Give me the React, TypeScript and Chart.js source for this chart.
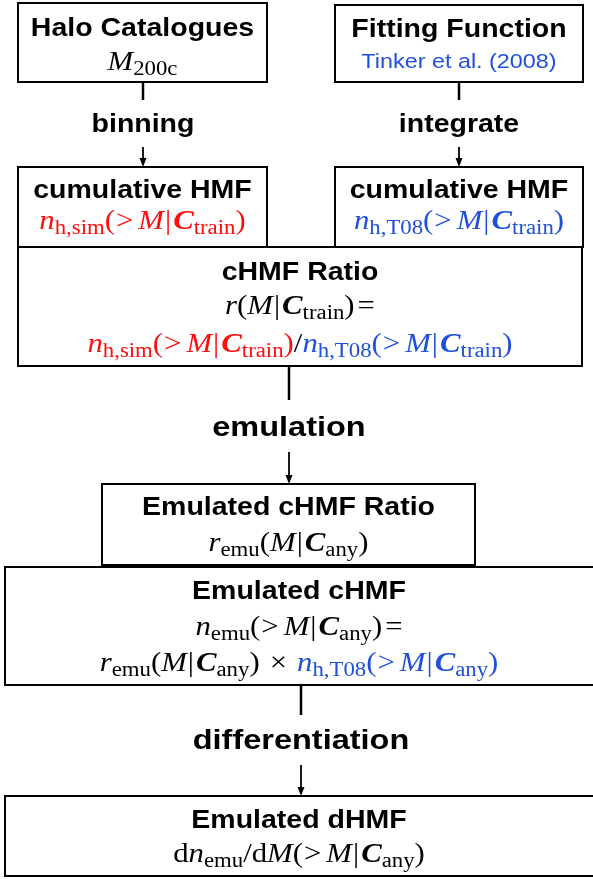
import { useEffect, useRef } from 'react';
import { Chart, registerables } from 'chart.js';
Chart.register(...registerables);

const W = 593;
const H = 879;
const RED = '#ff0d0d';
const BLUE = '#1f50d8';

type Seg = [string, string, string?];

// Boxes
const boxTitles = ['Halo Catalogues', 'Fitting Function', 'cumulative HMF', 'cumulative HMF', 'cHMF Ratio', 'Emulated cHMF Ratio', 'Emulated cHMF', 'Emulated dHMF'];
const boxLeft = [18, 335, 18, 335, 18, 102, 5, 5];
const boxTop = [3, 5, 167, 167, 247, 484, 567, 796];
const boxRight = [267, 583, 267, 583, 582, 475, 600, 600];
const boxBottom = [82, 82, 247, 247, 366, 565, 685, 876];
const titleY = [29, 30, 191, 191, 273, 508, 592, 821];
const lineY: number[][] = [[70], [67], [229], [229], [314, 352], [551], [635, 671], [862]];

const nh = (sub: string, c: string, cond: string, gt = true): Seg[] => [
  ['n', 'i', c], [sub, 's', c], ['(', 'r', c], ...(gt ? [['>', 'gt', c] as Seg] : []), ['M', 'i', c], ['|', 'bar', c], ['C', 'b', c], [cond, 's', c], [')', 'r', c],
];
const rM = (sub: string, cond: string): Seg[] => [
  ['r', 'i'], ...(sub ? [[sub, 's'] as Seg] : []), ['(', 'r'], ['M', 'i'], ['|', 'bar'], ['C', 'b'], [cond, 's'], [')', 'r'],
];

const boxLines: Seg[][][] = [
  [[['M', 'i'], ['200c', 's']]],
  [[['Tinker et al. (2008)', 'sans', BLUE]]],
  [nh('h,sim', RED, 'train')],
  [nh('h,T08', BLUE, 'train')],
  [[...rM('', 'train'), ['=', 'eq']], [...nh('h,sim', RED, 'train'), ['/', 'r'], ...nh('h,T08', BLUE, 'train')]],
  [rM('emu', 'any')],
  [[...nh('emu', '#000', 'any'), ['=', 'eq']], [...rM('emu', 'any'), ['×', 'times'], ...nh('h,T08', BLUE, 'any')]],
  [[['d', 'r'], ['n', 'i'], ['emu', 's'], ['/', 'r'], ['d', 'r'], ['M', 'i'], ['(', 'r'], ['>', 'gt'], ['M', 'i'], ['|', 'bar'], ['C', 'b'], ['any', 's'], [')', 'r']]],
];

// Connectors
const edgeLabels = ['binning', 'integrate', 'emulation', 'differentiation'];
const edgeX = [143, 459, 289, 301];
const edgeStart = [82, 82, 366, 685];
const edgeStop = [100, 100, 400, 715];
const edgeLabelY = [125, 125, 428, 741];
const arrowStart = [147, 147, 452, 765];
const arrowEnd = [167, 167, 484, 796];
const edgeLabelSize = [25, 25, 28.5, 28.5];

const SX = 1.14; // horizontal stretch of the figure's lettering
const MS = 27; // math size
const SS = 20; // subscript size

function segFont(kind: string): string {
  switch (kind) {
    case 'i': return `italic ${MS}px "Liberation Serif"`;
    case 'b': return `bold italic ${MS}px "Liberation Serif"`;
    case 's': return `${SS}px "Liberation Serif"`;
    case 'sans': return `20.5px "Liberation Sans"`;
    default: return `${MS}px "Liberation Serif"`;
  }
}
function segPad(kind: string): [number, number] {
  if (kind === 'gt') return [1, 5];
  if (kind === 'eq') return [3, 0];
  if (kind === 'times') return [10, 10];
  if (kind === 'b') return [1, 0];
  if (kind === 'bar') return [1, 1];
  return [0, 0];
}

function stretchText(ctx: CanvasRenderingContext2D, t: string, x: number, y: number) {
  ctx.save();
  ctx.translate(x, y);
  ctx.scale(SX, 1);
  ctx.fillText(t, 0, 0);
  ctx.restore();
}

function drawLine(ctx: CanvasRenderingContext2D, segs: Seg[], cx: number, base: number) {
  let total = 0;
  const widths = segs.map(([t, k]) => {
    ctx.font = segFont(k);
    const [pl, pr] = segPad(k);
    const w = ctx.measureText(t).width * SX + pl + pr;
    total += w;
    return w;
  });
  let x = cx - total / 2;
  ctx.textAlign = 'left';
  ctx.textBaseline = 'alphabetic';
  segs.forEach(([t, k, c], i) => {
    ctx.font = segFont(k);
    ctx.fillStyle = c || '#000';
    const [pl] = segPad(k);
    const y = k === 's' ? base + 5 : k === 'sans' ? base + 1 : base;
    stretchText(ctx, t, x + pl, y);
    x += widths[i];
  });
}

const flowPlugin = {
  id: 'flow',
  afterDraw(chart: any) {
    const ctx: CanvasRenderingContext2D = chart.ctx;
    const xs = chart.scales.x;
    const ys = chart.scales.y;
    const px = (v: number) => xs.getPixelForValue(v);
    const py = (v: number) => ys.getPixelForValue(v);
    ctx.save();
    ctx.fillStyle = '#fff';
    ctx.fillRect(0, 0, chart.width, chart.height);
    // boxes
    boxTitles.forEach((title, i) => {
      const x0 = px(boxLeft[i]), x1 = px(boxRight[i]);
      const y0 = py(boxTop[i]), y1 = py(boxBottom[i]);
      ctx.strokeStyle = '#000';
      ctx.lineWidth = 2;
      ctx.strokeRect(x0, y0, x1 - x0, y1 - y0);
      const cx = (px(Math.max(boxLeft[i], 0)) + px(Math.min(boxRight[i], W))) / 2;
      ctx.fillStyle = '#000';
      ctx.font = 'bold 25px "Liberation Sans"';
      ctx.textAlign = 'center';
      ctx.textBaseline = 'middle';
      stretchText(ctx, title, cx, py(titleY[i]));
      boxLines[i].forEach((segs, j) => drawLine(ctx, segs, cx, py(lineY[i][j])));
    });
    // connectors
    edgeLabels.forEach((lab, i) => {
      const x = px(edgeX[i]);
      ctx.strokeStyle = '#000';
      ctx.lineWidth = 2.5;
      ctx.beginPath();
      ctx.moveTo(x, py(edgeStart[i]));
      ctx.lineTo(x, py(edgeStop[i]));
      ctx.stroke();
      ctx.lineWidth = 1.8;
      const ye = py(arrowEnd[i]);
      ctx.beginPath();
      ctx.moveTo(x, py(arrowStart[i]));
      ctx.lineTo(x, ye - 6);
      ctx.stroke();
      ctx.fillStyle = '#000';
      ctx.beginPath();
      ctx.moveTo(x - 3.5, ye - 9);
      ctx.lineTo(x + 3.5, ye - 9);
      ctx.lineTo(x, ye);
      ctx.closePath();
      ctx.fill();
      ctx.font = `bold ${edgeLabelSize[i]}px "Liberation Sans"`;
      ctx.textAlign = 'center';
      ctx.textBaseline = 'middle';
      stretchText(ctx, lab, x, py(edgeLabelY[i]));
    });
    ctx.restore();
  },
};

export default function App() {
  const ref = useRef<HTMLCanvasElement>(null);
  useEffect(() => {
    if (!ref.current) return;
    const centers = boxTitles.map((_, i) => ({ x: (boxLeft[i] + boxRight[i]) / 2, y: (boxTop[i] + boxBottom[i]) / 2 }));
    const chart = new Chart(ref.current, {
      type: 'scatter',
      data: { datasets: [{ data: centers, pointRadius: 0, showLine: false }] },
      options: {
        responsive: false,
        animation: false,
        layout: { padding: 0 },
        plugins: { legend: { display: false }, tooltip: { enabled: false } },
        scales: {
          x: { type: 'linear', min: 0, max: W, display: false },
          y: { type: 'linear', min: 0, max: H, reverse: true, display: false },
        },
      },
      plugins: [flowPlugin],
    });
    return () => chart.destroy();
  }, []);
  return (
    <div style={{ position: 'absolute', left: 0, top: 0, width: W, height: H, background: '#fff' }}>
      <canvas ref={ref} width={W} height={H} style={{ width: W, height: H, display: 'block' }} />
    </div>
  );
}
